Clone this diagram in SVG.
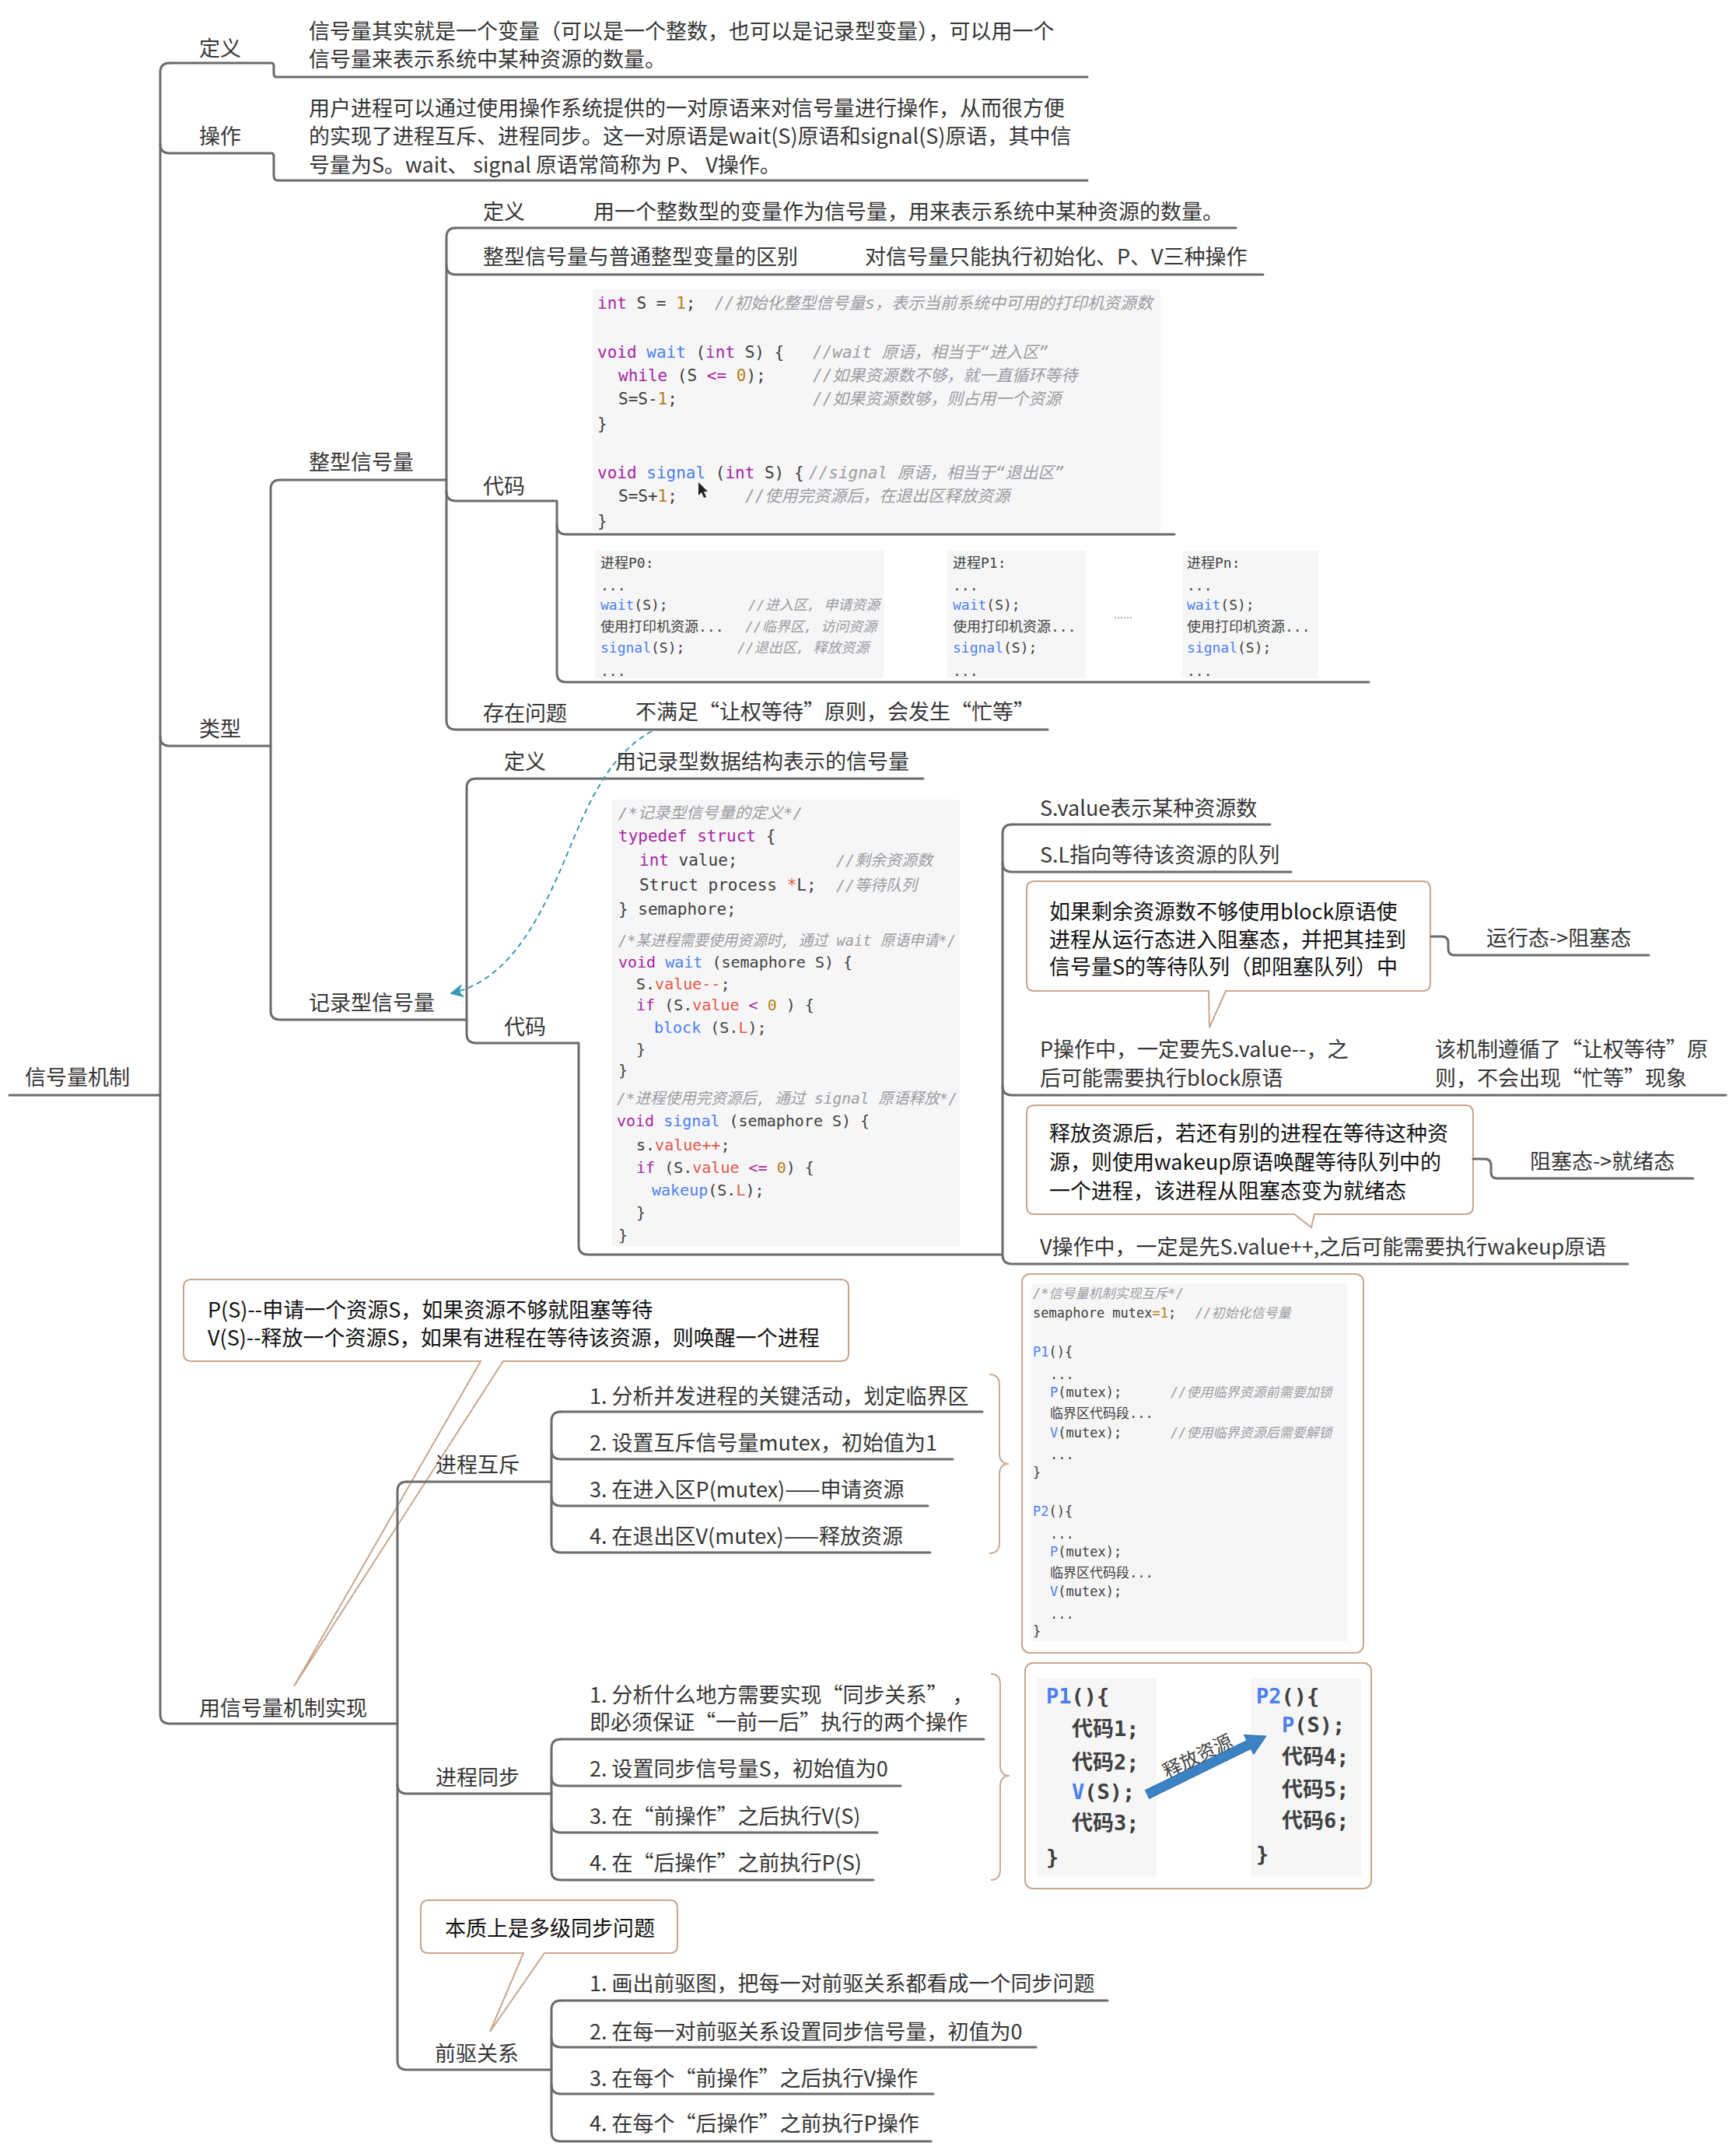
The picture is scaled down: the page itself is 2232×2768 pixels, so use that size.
<svg xmlns="http://www.w3.org/2000/svg" width="2232" height="2768" viewBox="0 0 2232 2768">
<defs>
<style>
.t{font-family:"Noto Sans CJK SC","Noto Sans",sans-serif;font-size:27px;fill:#363636;dominant-baseline:central}
.k{fill:#111}
.ln{fill:none;stroke:#6b6b6b;stroke-width:3;stroke-linecap:round;stroke-linejoin:round}
.co{fill:#fff;stroke:#c6a78e;stroke-width:2}
.br{fill:none;stroke:#c9ab92;stroke-width:2}
.bg{fill:#f6f6f7}
.c{font-family:"DejaVu Sans Mono","Noto Sans CJK SC",monospace;fill:#404040;dominant-baseline:central}
.cm{fill:#9c9ca2;font-style:italic}
.kw{fill:#a626a4}
.fn{fill:#4a7ff0}
.nm{fill:#b5801a}
.fd{fill:#e45649}
</style>
<marker id="ah" viewBox="0 0 10 10" refX="9" refY="5" markerWidth="18" markerHeight="18" markerUnits="userSpaceOnUse" orient="auto">
<path d="M0 0 L10 5 L0 10 L3 5 Z" fill="#3a9ab2"/>
</marker>
</defs>
<rect width="2232" height="2768" fill="#fff"/>

<!-- callout nodes -->
<g id="note-block">
<path class="co" d="M1330 1133 H1829 Q1839 1133 1839 1143 V1264 Q1839 1274 1829 1274 H1576 L1555 1321 L1554 1274 H1330 Q1320 1274 1320 1264 V1143 Q1320 1133 1330 1133 Z"/>
<text class="t k" x="1349" y="1170">如果剩余资源数不够使用block原语使</text>
<text class="t k" x="1349" y="1206">进程从运行态进入阻塞态，并把其挂到</text>
<text class="t k" x="1349" y="1241">信号量S的等待队列（即阻塞队列）中</text>
</g>
<g id="note-wakeup">
<path class="co" d="M1330 1421 H1884 Q1894 1421 1894 1431 V1551 Q1894 1561 1884 1561 H1690 L1686 1578 L1664 1561 H1330 Q1320 1561 1320 1551 V1431 Q1320 1421 1330 1421 Z"/>
<text class="t k" x="1349" y="1455">释放资源后，若还有别的进程在等待这种资</text>
<text class="t k" x="1349" y="1492">源，则使用wakeup原语唤醒等待队列中的</text>
<text class="t k" x="1349" y="1529">一个进程，该进程从阻塞态变为就绪态</text>
</g>
<g id="note-pv">
<path class="co" d="M246 1645 H1081 Q1091 1645 1091 1655 V1740 Q1091 1750 1081 1750 H647 L378 2168 L618 1750 H246 Q236 1750 236 1740 V1655 Q236 1645 246 1645 Z"/>
<text class="t k" x="267" y="1682">P(S)--申请一个资源S，如果资源不够就阻塞等待</text>
<text class="t k" x="267" y="1718">V(S)--释放一个资源S，如果有进程在等待该资源，则唤醒一个进程</text>
</g>
<g id="note-multi">
<path class="co" d="M551 2443 H861 Q871 2443 871 2453 V2501 Q871 2511 861 2511 H700 L630 2612 L673 2511 H551 Q541 2511 541 2501 V2453 Q541 2443 551 2443 Z"/>
<text class="t k" x="572" y="2477">本质上是多级同步问题</text>
</g>

<!-- connectors -->
<g id="connectors">
<path class="ln" d="M12 1408 H206"/>
<path class="ln" d="M218 81 Q206 81 206 93 V2204 Q206 2216 218 2216 H511"/>
<path class="ln" d="M218 81 H349 Q352 81 352 85 V95 Q352 99 356 99 H1398"/>
<path class="ln" d="M206 185 Q206 197 218 197 H349 Q352 197 352 201 V226 Q352 232 358 232 H1398"/>
<path class="ln" d="M206 947 Q206 959 218 959 H348"/>
<path class="ln" d="M360 617 Q348 617 348 629 V1299 Q348 1311 360 1311 H600"/>
<path class="ln" d="M360 617 H574"/>
<path class="ln" d="M586 293 Q574 293 574 305 V926 Q574 938 586 938 H1347"/>
<path class="ln" d="M586 293 H1589"/>
<path class="ln" d="M574 341 Q574 353 586 353 H1624"/>
<path class="ln" d="M574 632 Q574 644 586 644 H716 V865 Q716 877 728 877 H1760"/>
<path class="ln" d="M716 675 Q716 687 728 687 H1510"/>
<path class="ln" d="M612 1001 Q600 1001 600 1013 V1329 Q600 1341 612 1341 H744 V1601 Q744 1613 756 1613 H1289"/>
<path class="ln" d="M612 1001 H1187"/>
<path class="ln" d="M1301 1060 Q1289 1060 1289 1072 V1613 Q1289 1625 1301 1625 H2093"/>
<path class="ln" d="M1301 1060 H1633"/>
<path class="ln" d="M1289 1109 Q1289 1121 1301 1121 H1660"/>
<path class="ln" d="M1289 1396 Q1289 1408 1301 1408 H2219"/>
<path class="ln" d="M1840 1204 H1854 Q1862 1204 1862 1212 V1220 Q1862 1228 1870 1228 H2120"/>
<path class="ln" d="M1894 1490 H1909 Q1917 1490 1917 1498 V1507 Q1917 1515 1925 1515 H2177"/>
<path class="ln" d="M523 1905 Q511 1905 511 1917 V2649 Q511 2661 523 2661 H709"/>
<path class="ln" d="M523 1905 H709"/>
<path class="ln" d="M511 2294 Q511 2306 523 2306 H709"/>
<path class="ln" d="M721 1815 Q709 1815 709 1827 V1984 Q709 1996 721 1996 H1196"/>
<path class="ln" d="M721 1815 H1263"/>
<path class="ln" d="M709 1864 Q709 1876 721 1876 H1225"/>
<path class="ln" d="M709 1924 Q709 1936 721 1936 H1193"/>
<path class="ln" d="M721 2236 Q709 2236 709 2248 V2405 Q709 2417 721 2417 H1123"/>
<path class="ln" d="M721 2236 H1265"/>
<path class="ln" d="M709 2284 Q709 2296 721 2296 H1158"/>
<path class="ln" d="M709 2344 Q709 2356 721 2356 H1128"/>
<path class="ln" d="M721 2572 Q709 2572 709 2584 V2741 Q709 2753 721 2753 H1197"/>
<path class="ln" d="M721 2572 H1424"/>
<path class="ln" d="M709 2620 Q709 2632 721 2632 H1332"/>
<path class="ln" d="M709 2680 Q709 2692 721 2692 H1200"/>
<path class="br" d="M1272 1767 Q1285 1767 1285 1781 V1868 Q1285 1882 1297 1882 Q1285 1882 1285 1896 V1983 Q1285 1997 1272 1997"/>
<path class="br" d="M1274 2152 Q1286 2152 1286 2166 V2269 Q1286 2283 1298 2283 Q1286 2283 1286 2297 V2403 Q1286 2417 1274 2417"/>
<path d="M838 940 C775 975 750 1050 722 1115 C690 1190 650 1262 580 1277" fill="none" stroke="#3a9ab2" stroke-width="2" stroke-dasharray="7 5" marker-end="url(#ah)"/>
</g>

<!-- tree nodes -->
<g id="root"><text class="t" x="32" y="1383">信号量机制</text></g>
<g id="n-def"><text class="t" x="256" y="60">定义</text></g>
<g id="n-def-text">
<text class="t" x="397" y="38">信号量其实就是一个变量（可以是一个整数，也可以是记录型变量），可以用一个</text>
<text class="t" x="397" y="74">信号量来表示系统中某种资源的数量。</text>
</g>
<g id="n-op"><text class="t" x="256" y="173">操作</text></g>
<g id="n-op-text">
<text class="t" x="397" y="137">用户进程可以通过使用操作系统提供的一对原语来对信号量进行操作，从而很方便</text>
<text class="t" x="397" y="173">的实现了进程互斥、进程同步。这一对原语是wait(S)原语和signal(S)原语，其中信</text>
<text class="t" x="397" y="210">号量为S。wait、 signal 原语常简称为 P、 V操作。</text>
</g>
<g id="n-type"><text class="t" x="256" y="935">类型</text></g>
<g id="n-int"><text class="t" x="397" y="592">整型信号量</text></g>
<g id="n-int-def"><text class="t" x="621" y="270">定义</text></g>
<g id="n-int-def-text"><text class="t" x="763" y="270">用一个整数型的变量作为信号量，用来表示系统中某种资源的数量。</text></g>
<g id="n-int-diff"><text class="t" x="621" y="328">整型信号量与普通整型变量的区别</text></g>
<g id="n-int-diff-text"><text class="t" x="1112" y="328">对信号量只能执行初始化、P、V三种操作</text></g>
<g id="n-int-code"><text class="t" x="621" y="623">代码</text></g>
<g id="n-int-problem"><text class="t" x="621" y="915">存在问题</text></g>
<g id="n-int-problem-text"><text class="t" x="817" y="913">不满足“让权等待”原则，会发生“忙等”</text></g>

<g id="n-int-code-img1">
<rect class="bg" x="762" y="372" width="730" height="312"/>
<g font-size="21">
<text class="c" x="768" y="390"><tspan class="kw">int</tspan> S = <tspan class="nm">1</tspan>;</text>
<text class="c cm" x="919" y="390">//初始化整型信号量s，表示当前系统中可用的打印机资源数</text>
<text class="c" x="768" y="453"><tspan class="kw">void</tspan> <tspan class="fn">wait</tspan> (<tspan class="kw">int</tspan> S) {</text>
<text class="c cm" x="1045" y="453">//wait 原语，相当于“进入区”</text>
<text class="c" x="795" y="483"><tspan class="kw">while</tspan> (S <tspan class="kw">&lt;=</tspan> <tspan class="nm">0</tspan>);</text>
<text class="c cm" x="1045" y="483">//如果资源数不够，就一直循环等待</text>
<text class="c" x="795" y="513">S=S-<tspan class="nm">1</tspan>;</text>
<text class="c cm" x="1045" y="513">//如果资源数够，则占用一个资源</text>
<text class="c" x="768" y="545">}</text>
<text class="c" x="768" y="608"><tspan class="kw">void</tspan> <tspan class="fn">signal</tspan> (<tspan class="kw">int</tspan> S) {</text>
<text class="c cm" x="1040" y="608">//signal 原语，相当于“退出区”</text>
<text class="c" x="795" y="638">S=S+<tspan class="nm">1</tspan>;</text>
<text class="c cm" x="958" y="638">//使用完资源后，在退出区释放资源</text>
<text class="c" x="768" y="670">}</text>
</g>
<path d="M898 620 L898 637 L902 633 L905 640 L908 639 L905 632 L910 632 Z" fill="#222"/>
</g>

<g id="n-int-code-img2" font-size="18">
<rect class="bg" x="765" y="708" width="372" height="164"/>
<rect class="bg" x="1218" y="708" width="178" height="164"/>
<rect class="bg" x="1520" y="708" width="175" height="164"/>
<text class="c" x="772" y="723">进程P0:</text>
<text class="c" x="772" y="752">...</text>
<text class="c" x="772" y="777"><tspan class="fn">wait</tspan>(S);</text>
<text class="c cm" x="962" y="777">//进入区, 申请资源</text>
<text class="c" x="772" y="805">使用打印机资源...</text>
<text class="c cm" x="958" y="805">//临界区, 访问资源</text>
<text class="c" x="772" y="832"><tspan class="fn">signal</tspan>(S);</text>
<text class="c cm" x="948" y="832">//退出区, 释放资源</text>
<text class="c" x="772" y="862">...</text>
<text class="c" x="1225" y="723">进程P1:</text>
<text class="c" x="1225" y="752">...</text>
<text class="c" x="1225" y="777"><tspan class="fn">wait</tspan>(S);</text>
<text class="c" x="1225" y="805">使用打印机资源...</text>
<text class="c" x="1225" y="832"><tspan class="fn">signal</tspan>(S);</text>
<text class="c" x="1225" y="862">...</text>
<text x="1432" y="795" font-family="Liberation Sans, sans-serif" font-size="12" fill="#555">……</text>
<text class="c" x="1526" y="723">进程Pn:</text>
<text class="c" x="1526" y="752">...</text>
<text class="c" x="1526" y="777"><tspan class="fn">wait</tspan>(S);</text>
<text class="c" x="1526" y="805">使用打印机资源...</text>
<text class="c" x="1526" y="832"><tspan class="fn">signal</tspan>(S);</text>
<text class="c" x="1526" y="862">...</text>
</g>

<g id="n-rec"><text class="t" x="397" y="1287">记录型信号量</text></g>
<g id="n-rec-def"><text class="t" x="648" y="977">定义</text></g>
<g id="n-rec-def-text"><text class="t" x="791" y="977">用记录型数据结构表示的信号量</text></g>
<g id="n-rec-code"><text class="t" x="648" y="1318">代码</text></g>
<g id="n-rec-code-img" font-size="20">
<rect class="bg" x="787" y="1028" width="447" height="574"/>
<text class="c cm" x="795" y="1045" textLength="237" lengthAdjust="spacingAndGlyphs">/*记录型信号量的定义*/</text>
<text class="c" x="795" y="1075" font-size="21"><tspan class="kw">typedef struct</tspan> {</text>
<text class="c" x="822" y="1106" font-size="21"><tspan class="kw">int</tspan> value;</text>
<text class="c cm" x="1075" y="1106">//剩余资源数</text>
<text class="c" x="822" y="1138" font-size="21">Struct process <tspan class="fd">*</tspan>L;</text>
<text class="c cm" x="1075" y="1138">//等待队列</text>
<text class="c" x="795" y="1169" font-size="21">} semaphore;</text>
<text class="c cm" x="795" y="1209" textLength="434" lengthAdjust="spacingAndGlyphs">/*某进程需要使用资源时, 通过 wait 原语申请*/</text>
<text class="c" x="795" y="1237"><tspan class="kw">void</tspan> <tspan class="fn">wait</tspan> (semaphore S) {</text>
<text class="c" x="818" y="1265">S.<tspan class="fd">value--</tspan>;</text>
<text class="c" x="818" y="1292"><tspan class="kw">if</tspan> (S.<tspan class="fd">value</tspan> <tspan class="kw">&lt;</tspan> <tspan class="nm">0</tspan> ) {</text>
<text class="c" x="841" y="1321"><tspan class="fn">block</tspan> (S.<tspan class="fd">L</tspan>);</text>
<text class="c" x="818" y="1349">}</text>
<text class="c" x="795" y="1376">}</text>
<text class="c cm" x="793" y="1412" textLength="438" lengthAdjust="spacingAndGlyphs">/*进程使用完资源后, 通过 signal 原语释放*/</text>
<text class="c" x="793" y="1441"><tspan class="kw">void</tspan> <tspan class="fn">signal</tspan> (semaphore S) {</text>
<text class="c" x="818" y="1472">s.<tspan class="fd">value++</tspan>;</text>
<text class="c" x="818" y="1501"><tspan class="kw">if</tspan> (S.<tspan class="fd">value</tspan> <tspan class="kw">&lt;=</tspan> <tspan class="nm">0</tspan>) {</text>
<text class="c" x="838" y="1530"><tspan class="fn">wakeup</tspan>(S.<tspan class="fd">L</tspan>);</text>
<text class="c" x="818" y="1559">}</text>
<text class="c" x="795" y="1588">}</text>
</g>

<g id="n-svalue"><text class="t" x="1337" y="1037">S.value表示某种资源数</text></g>
<g id="n-sl"><text class="t" x="1337" y="1097">S.L指向等待该资源的队列</text></g>
<g id="n-pop">
<text class="t" x="1337" y="1347">P操作中，一定要先S.value--，之</text>
<text class="t" x="1337" y="1384">后可能需要执行block原语</text>
</g>
<g id="n-pop-child">
<text class="t" x="1845" y="1347">该机制遵循了“让权等待”原</text>
<text class="t" x="1845" y="1384">则，不会出现“忙等”现象</text>
</g>
<g id="n-run-block"><text class="t" x="1911" y="1204">运行态-&gt;阻塞态</text></g>
<g id="n-vop"><text class="t" x="1337" y="1601">V操作中，一定是先S.value++,之后可能需要执行wakeup原语</text></g>
<g id="n-block-ready"><text class="t" x="1967" y="1491">阻塞态-&gt;就绪态</text></g>

<g id="n-impl"><text class="t" x="256" y="2194">用信号量机制实现</text></g>
<g id="n-mutex"><text class="t" x="560" y="1881">进程互斥</text></g>
<g id="n-mutex-1"><text class="t" x="758" y="1793">1. 分析并发进程的关键活动，划定临界区</text></g>
<g id="n-mutex-2"><text class="t" x="758" y="1853">2. 设置互斥信号量mutex，初始值为1</text></g>
<g id="n-mutex-3"><text class="t" x="758" y="1913">3. 在进入区P(mutex)——申请资源</text></g>
<g id="n-mutex-4"><text class="t" x="758" y="1973">4. 在退出区V(mutex)——释放资源</text></g>

<g id="n-mutex-code" font-size="17">
<rect class="co" x="1314" y="1638" width="439" height="487" rx="10"/>
<rect class="bg" x="1326" y="1650" width="406" height="460"/>
<text class="c cm" x="1328" y="1663">/*信号量机制实现互斥*/</text>
<text class="c" x="1328" y="1688">semaphore mutex<tspan class="nm">=1</tspan>;</text>
<text class="c cm" x="1537" y="1688">//初始化信号量</text>
<text class="c" x="1328" y="1738"><tspan class="fn">P1</tspan>(){</text>
<text class="c" x="1350" y="1767">...</text>
<text class="c" x="1350" y="1790"><tspan class="fn">P</tspan>(mutex);</text>
<text class="c cm" x="1505" y="1790">//使用临界资源前需要加锁</text>
<text class="c" x="1350" y="1817">临界区代码段...</text>
<text class="c" x="1350" y="1842"><tspan class="fn">V</tspan>(mutex);</text>
<text class="c cm" x="1505" y="1842">//使用临界资源后需要解锁</text>
<text class="c" x="1350" y="1870">...</text>
<text class="c" x="1328" y="1893">}</text>
<text class="c" x="1328" y="1943"><tspan class="fn">P2</tspan>(){</text>
<text class="c" x="1350" y="1972">...</text>
<text class="c" x="1350" y="1995"><tspan class="fn">P</tspan>(mutex);</text>
<text class="c" x="1350" y="2022">临界区代码段...</text>
<text class="c" x="1350" y="2046"><tspan class="fn">V</tspan>(mutex);</text>
<text class="c" x="1350" y="2075">...</text>
<text class="c" x="1328" y="2097">}</text>
</g>

<g id="n-sync"><text class="t" x="560" y="2283">进程同步</text></g>
<g id="n-sync-1">
<text class="t" x="758" y="2177">1. 分析什么地方需要实现“同步关系”  ，</text>
<text class="t" x="758" y="2212">即必须保证“一前一后”执行的两个操作</text>
</g>
<g id="n-sync-2"><text class="t" x="758" y="2272">2. 设置同步信号量S，初始值为0</text></g>
<g id="n-sync-3"><text class="t" x="758" y="2333">3. 在“前操作”之后执行V(S)</text></g>
<g id="n-sync-4"><text class="t" x="758" y="2393">4. 在“后操作”之前执行P(S)</text></g>

<g id="n-sync-code" font-size="27" font-weight="bold">
<rect class="co" x="1318" y="2138" width="445" height="290" rx="10"/>
<rect class="bg" x="1333" y="2158" width="154" height="255"/>
<rect class="bg" x="1608" y="2158" width="142" height="255"/>
<text class="c" x="1345" y="2180"><tspan class="fn">P1</tspan>(){</text>
<text class="c" x="1378" y="2222">代码1;</text>
<text class="c" x="1378" y="2265">代码2;</text>
<text class="c" x="1378" y="2303"><tspan class="fn">V</tspan>(S);</text>
<text class="c" x="1378" y="2343">代码3;</text>
<text class="c" x="1345" y="2387">}</text>
<text class="c" x="1615" y="2180"><tspan class="fn">P2</tspan>(){</text>
<text class="c" x="1648" y="2217"><tspan class="fn">P</tspan>(S);</text>
<text class="c" x="1648" y="2258">代码4;</text>
<text class="c" x="1648" y="2300">代码5;</text>
<text class="c" x="1648" y="2340">代码6;</text>
<text class="c" x="1615" y="2383">}</text>
<polygon points="1472.4,2301.6 1603,2237.6 1599.4,2230.4 1628,2232 1611.8,2255.6 1608.2,2248.4 1477.6,2312.4" fill="#3b82c4" stroke="#2f6ea8" stroke-width="1"/>
<text class="c" x="1540" y="2258" font-size="24" font-weight="normal" text-anchor="middle" transform="rotate(-26 1540 2258)" fill="#555">释放资源</text>
</g>

<g id="n-pre"><text class="t" x="559" y="2638">前驱关系</text></g>
<g id="n-pre-1"><text class="t" x="758" y="2548">1. 画出前驱图，把每一对前驱关系都看成一个同步问题</text></g>
<g id="n-pre-2"><text class="t" x="758" y="2610">2. 在每一对前驱关系设置同步信号量，初值为0</text></g>
<g id="n-pre-3"><text class="t" x="758" y="2670">3. 在每个“前操作”之后执行V操作</text></g>
<g id="n-pre-4"><text class="t" x="758" y="2728">4. 在每个“后操作”之前执行P操作</text></g>
</svg>
